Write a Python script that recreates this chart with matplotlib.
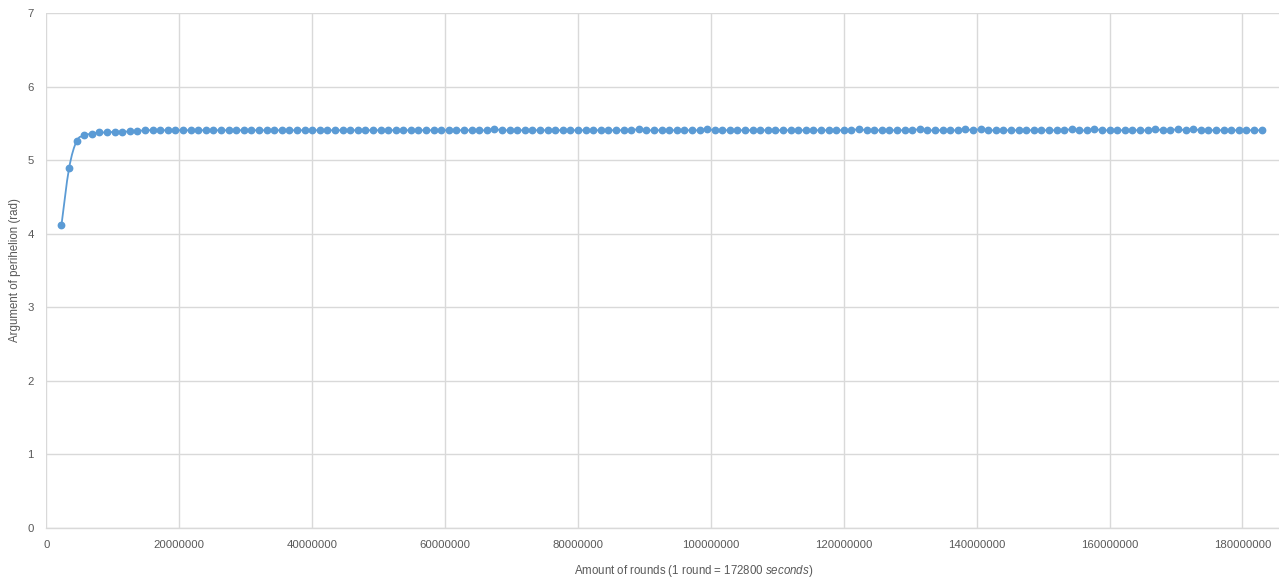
#!/bin/python3
import numpy as np
import matplotlib
matplotlib.use("Agg")
import matplotlib.pyplot as plt
from matplotlib.path import Path
from matplotlib.patches import PathPatch

# sampling: one point every 1143000 rounds, starting at the 2nd sample
rounds = np.arange(2, 161) * 1143000

perihelion = [
    4.12, 4.89, 5.26, 5.335, 5.36, 5.375, 5.375, 5.385, 5.385, 5.39,
    5.395, 5.405, 5.405, 5.405, 5.405, 5.405, 5.405, 5.405, 5.405, 5.405,
    5.405, 5.405, 5.405, 5.405, 5.405, 5.405, 5.405, 5.405, 5.405, 5.405,
    5.405, 5.405, 5.405, 5.405, 5.405, 5.405, 5.405, 5.405, 5.405, 5.405,
    5.405, 5.405, 5.405, 5.405, 5.405, 5.405, 5.405, 5.405, 5.405, 5.405,
    5.405, 5.405, 5.405, 5.405, 5.405, 5.405, 5.405, 5.42, 5.405, 5.405,
    5.405, 5.405, 5.405, 5.405, 5.405, 5.405, 5.405, 5.405, 5.405, 5.405,
    5.405, 5.405, 5.405, 5.405, 5.405, 5.405, 5.42, 5.405, 5.405, 5.405,
    5.405, 5.405, 5.405, 5.405, 5.405, 5.42, 5.405, 5.405, 5.405, 5.405,
    5.405, 5.405, 5.405, 5.405, 5.405, 5.405, 5.405, 5.405, 5.405, 5.405,
    5.405, 5.405, 5.405, 5.405, 5.405, 5.42, 5.405, 5.405, 5.405, 5.405,
    5.405, 5.405, 5.405, 5.42, 5.405, 5.405, 5.405, 5.405, 5.405, 5.42,
    5.405, 5.42, 5.405, 5.405, 5.405, 5.405, 5.405, 5.405, 5.405, 5.405,
    5.405, 5.405, 5.405, 5.42, 5.405, 5.405, 5.42, 5.405, 5.405, 5.405,
    5.405, 5.405, 5.405, 5.405, 5.42, 5.405, 5.405, 5.42, 5.405, 5.42,
    5.405, 5.405, 5.405, 5.405, 5.405, 5.405, 5.405, 5.405, 5.405,
]

x_ticks = [0, 20000000, 40000000, 60000000, 80000000, 100000000,
           120000000, 140000000, 160000000, 180000000]
y_ticks = [0, 1, 2, 3, 4, 5, 6, 7]

blue = "#5b9bd5"
grey_text = "#595959"


def smooth_path(x, y):
    # excel style smoothed line: cubic bezier through every point
    x = np.asarray(x, dtype=float)
    y = np.asarray(y, dtype=float)
    n = len(x)
    verts = [(x[0], y[0])]
    codes = [Path.MOVETO]
    for i in range(n - 1):
        p0 = max(i - 1, 0)
        p3 = min(i + 2, n - 1)
        c1 = (x[i] + (x[i + 1] - x[p0]) / 6, y[i] + (y[i + 1] - y[p0]) / 6)
        c2 = (x[i + 1] - (x[p3] - x[i]) / 6, y[i + 1] - (y[p3] - y[i]) / 6)
        verts += [c1, c2, (x[i + 1], y[i + 1])]
        codes += [Path.CURVE4] * 3
    return Path(verts, codes)


if __name__ == "__main__":
    plt.rcParams["font.family"] = ["Liberation Sans", "DejaVu Sans"]
    plt.rcParams["mathtext.fontset"] = "custom"
    plt.rcParams["mathtext.rm"] = "Liberation Sans"
    plt.rcParams["mathtext.it"] = "Liberation Sans:italic"

    fig = plt.figure(figsize=(12.79, 5.8), dpi=100)
    ax = fig.add_axes([0.0362, 0.0897, 0.9638, 0.888])

    ax.add_patch(PathPatch(smooth_path(rounds, perihelion), fill=False,
                           edgecolor=blue, linewidth=1.3, zorder=3))
    ax.plot(rounds, perihelion, linestyle="none", marker="o", markersize=4.6,
            color=blue, zorder=4)

    ax.set_xlim(0, 185500000)
    ax.set_ylim(0, 7)
    ax.set_xticks(x_ticks)
    ax.set_xticklabels([str(t) for t in x_ticks])
    ax.set_yticks(y_ticks)
    ax.set_yticklabels([str(t) for t in y_ticks])
    ax.tick_params(length=0, labelsize=8.2, labelcolor=grey_text)
    ax.tick_params(axis="x", pad=9)
    ax.tick_params(axis="y", pad=9)

    ax.grid(True, color="#d9d9d9", linewidth=1)
    ax.set_axisbelow(True)
    for s in ["top", "right", "left"]:
        ax.spines[s].set_visible(False)
    ax.spines["bottom"].set_color("#d9d9d9")
    ax.spines["bottom"].set_linewidth(1)

    fig.text(0.542, 0.0155,
             "Amount of rounds (1 round = 172800 $\\mathit{seconds}$)",
             ha="center", va="center", fontsize=8.3, color=grey_text)
    fig.text(0.0117, 0.534, "Argument of perihelion (rad)", rotation=90,
             ha="center", va="center", fontsize=8.3, color=grey_text)

    plt.savefig("out.png", dpi=100)
